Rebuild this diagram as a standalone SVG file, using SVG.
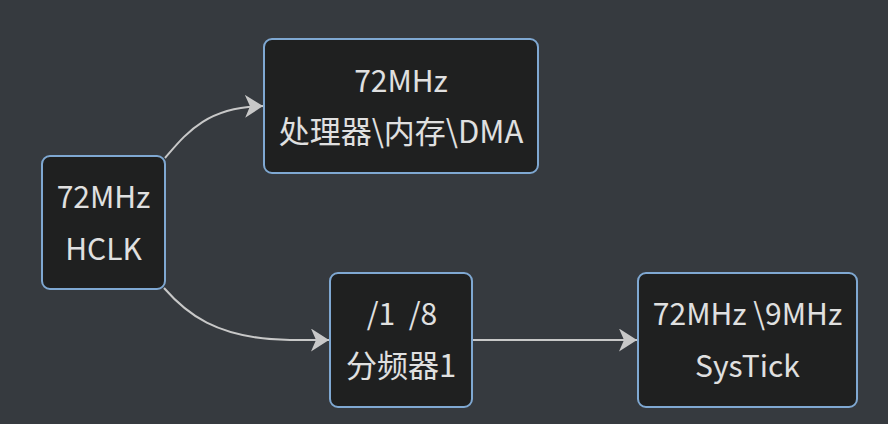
<svg xmlns="http://www.w3.org/2000/svg" width="888" height="424" viewBox="0 0 888 424">
<defs>
<style>
.node rect{fill:#1f2020;stroke:#7fa8d2;stroke-width:2}
.node text{fill:#e0e0e0;font-family:"Noto Sans CJK SC","Noto Sans",sans-serif;font-size:31px;text-anchor:middle;white-space:pre}
.node text.lat{font-size:30px}
.edge{fill:none;stroke:#c8c8c8;stroke-width:2}
</style>
<marker id="arr" markerUnits="userSpaceOnUse" markerWidth="20" markerHeight="24" refX="18" refY="11.5" orient="auto">
<path d="M0,0 L18,11.5 L0,23 L5,11.5 z" fill="#c8c8c8"/>
</marker>
</defs>
<rect width="888" height="424" fill="#363a3f"/>
<g id="connectors">
<path class="edge" d="M165,158 C185,135 205,107 263,106" marker-end="url(#arr)"/>
<path class="edge" d="M164,288 C185,312 215,339 290,340 L329,340" marker-end="url(#arr)"/>
<path class="edge" d="M472,340 L637,340" marker-end="url(#arr)"/>
</g>
<g id="hclk" class="node">
<rect x="42" y="156" width="123" height="133" rx="8"/>
<text class="lat" x="103.5" y="208">72MHz</text>
<text class="lat" x="103.5" y="259.5">HCLK</text>
</g>
<g id="cpu" class="node">
<rect x="264" y="39" width="274" height="134" rx="8"/>
<text class="lat" x="401" y="91.5">72MHz</text>
<text x="401" y="143">处理器\内存\DMA</text>
</g>
<g id="div" class="node">
<rect x="330" y="273" width="142" height="134" rx="8"/>
<text class="lat" x="402" y="324.5" xml:space="preserve">/1  /8</text>
<text x="401" y="376.5">分频器1</text>
</g>
<g id="systick" class="node">
<rect x="638" y="273" width="219" height="134" rx="8"/>
<text class="lat" x="747.5" y="324.5">72MHz \9MHz</text>
<text class="lat" x="747.5" y="376.5">SysTick</text>
</g>
</svg>
